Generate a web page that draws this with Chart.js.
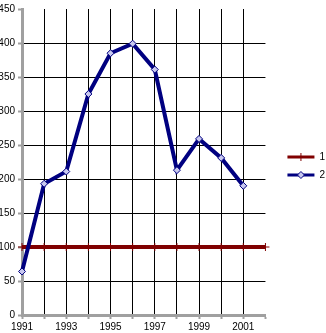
<!DOCTYPE html>
<html>
<head>
<meta charset="utf-8">
<script src="https://cdn.jsdelivr.net/npm/chart.js@4"></script>
<style>
  html, body { margin: 0; padding: 0; background: #fff; }
  #wrap { width: 326px; height: 333px; }
</style>
</head>
<body>
<div id="wrap"><canvas id="chart"></canvas></div>
<script>
// dados
const years = ['1991', '1992', '1993', '1994', '1995', '1996', '1997', '1998', '1999', '2000', '2001', '2002'];
const serie1 = [100, 100, 100, 100, 100, 100, 100, 100, 100, 100, 100, 100];
const serie2 = [64, 193, 211, 325, 385, 399, 361, 213, 259, 231, 190, null];
const yTicks = [0, 50, 100, 150, 200, 250, 300, 350, 400, 450];

const axisGray = '#a0a0a0';
const fontDef = { family: "'Liberation Sans', Arial, sans-serif", size: 10 };

// empurra a legenda um pouco para a direita/cima e desenha os marcadores
const legendTweak = {
  id: 'legendTweak',
  afterUpdate(chart) {
    const lg = chart.legend;
    if (!lg || !lg.legendHitBoxes) return;
    const dx = 14, dy = -3;
    lg.left += dx; lg.right += dx;
    lg.top += dy; lg.bottom += dy;
    lg.legendHitBoxes.forEach(b => { b.left += dx; b.top += dy; });
  },
  afterDraw(chart) {
    const lg = chart.legend;
    if (!lg || !lg.legendHitBoxes) return;
    const ctx = chart.ctx;
    lg.legendItems.forEach((item, i) => {
      const box = lg.legendHitBoxes[i];
      const ds = chart.data.datasets[item.datasetIndex];
      const cx = box.left + 27 / 2;
      const cy = box.top + box.height / 2;
      const r = ds.pointRadius;
      ctx.save();
      ctx.fillStyle = ds.pointBackgroundColor;
      ctx.strokeStyle = ds.pointBorderColor;
      ctx.lineWidth = ds.pointBorderWidth;
      ctx.beginPath();
      if (ds.pointStyle === 'rectRot') {
        ctx.moveTo(cx, cy - r); ctx.lineTo(cx + r, cy); ctx.lineTo(cx, cy + r); ctx.lineTo(cx - r, cy);
        ctx.closePath(); ctx.fill(); ctx.stroke();
      } else {
        ctx.moveTo(cx, cy - r); ctx.lineTo(cx, cy + r);
        ctx.stroke();
      }
      ctx.restore();
    });
  }
};

new Chart(document.getElementById('chart'), {
  type: 'line',
  data: {
    labels: years,
    datasets: [{
      label: '1',
      data: serie1,
      borderColor: '#800000',
      backgroundColor: '#800000',
      borderWidth: 4,
      pointStyle: 'cross',
      pointRadius: 4,
      pointBorderWidth: 1,
      pointBorderColor: '#800000',
      pointBackgroundColor: '#800000',
      tension: 0,
      order: 1
    }, {
      label: '2',
      data: serie2,
      borderColor: '#000080',
      backgroundColor: '#000080',
      borderWidth: 4,
      pointStyle: 'rectRot',
      pointRadius: 3.5,
      pointBorderWidth: 1,
      pointBorderColor: '#000080',
      pointBackgroundColor: '#c8c8f0',
      tension: 0,
      order: 0
    }]
  },
  options: {
    responsive: true,
    maintainAspectRatio: false,
    animation: false,
    layout: { padding: { top: 5, right: 5 } },
    font: fontDef,
    plugins: {
      tooltip: { enabled: false },
      title: { display: false },
      legend: {
        position: 'right',
        labels: {
          color: '#000',
          font: fontDef,
          boxWidth: 27,
          boxHeight: 3,
          padding: 8,
          sort: (a, b) => a.datasetIndex - b.datasetIndex,
          generateLabels(chart) {
            return chart.data.datasets.map((ds, i) => ({
              text: ds.label,
              fillStyle: ds.borderColor,
              strokeStyle: ds.borderColor,
              lineWidth: 0,
              datasetIndex: i,
              fontColor: '#000'
            }));
          }
        }
      }
    },
    scales: {
      x: {
        offset: false,
        grid: {
          color: ctx => (ctx.index === 0 || ctx.index === years.length - 1) ? 'rgba(0,0,0,0)' : '#000',
          lineWidth: 1,
          tickColor: axisGray,
          tickLength: 4,
          tickWidth: 2
        },
        border: { color: axisGray, width: 3 },
        ticks: {
          autoSkip: false,
          maxRotation: 0,
          padding: 2,
          color: '#000',
          font: fontDef,
          callback: (v, i) => i % 2 === 0 ? years[i] : ''
        },
        afterFit: s => { s.height = 18; }
      },
      y: {
        min: 0,
        max: 450,
        afterBuildTicks: s => { s.ticks = yTicks.map(v => ({ value: v })); },
        grid: {
          color: ctx => (ctx.tick && (ctx.tick.value === 0 || ctx.tick.value === 450)) ? 'rgba(0,0,0,0)' : '#000',
          lineWidth: 1,
          tickColor: axisGray,
          tickLength: 4,
          tickWidth: 2
        },
        border: { color: axisGray, width: 3 },
        ticks: {
          padding: 3,
          color: '#000',
          font: fontDef
        },
        afterFit: s => { s.width = 22; }
      }
    }
  },
  plugins: [legendTweak]
});
</script>
</body>
</html>
